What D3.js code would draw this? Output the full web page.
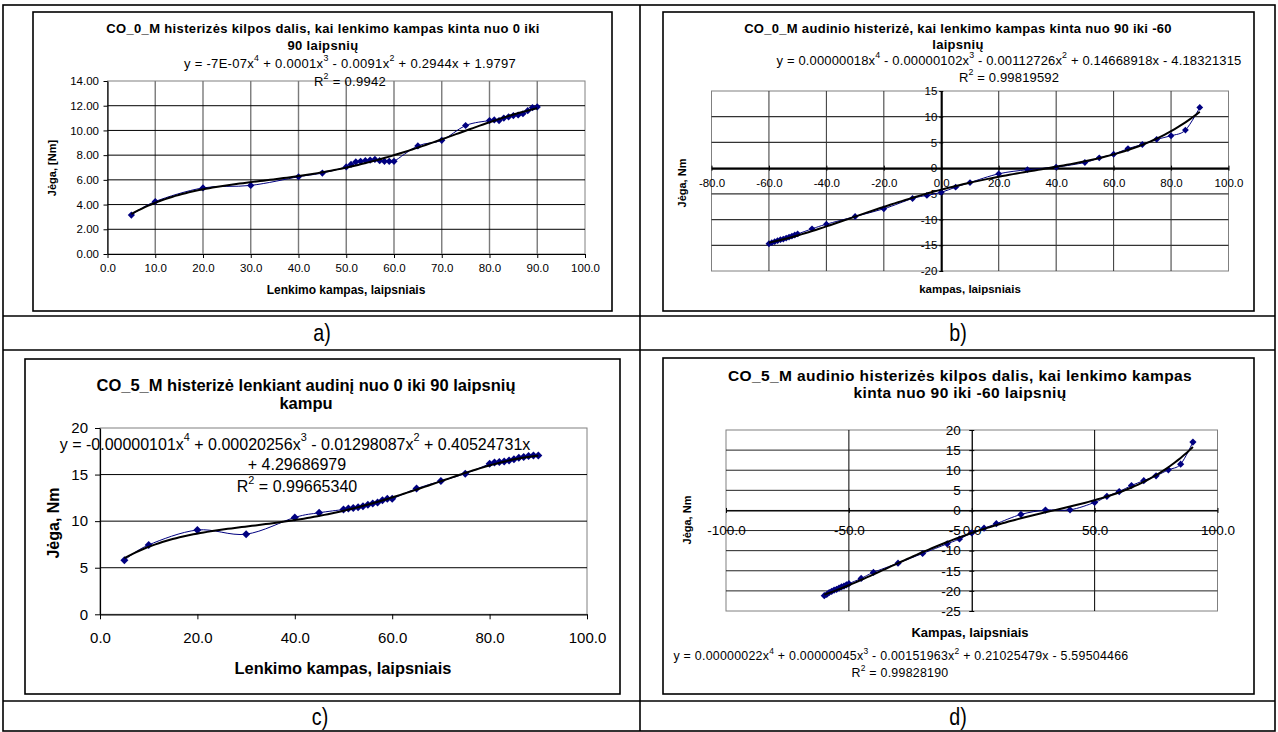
<!DOCTYPE html>
<html lang="lt">
<head>
<meta charset="utf-8">
<title>CO_0_M ir CO_5_M audinio histerizė</title>
<script src="https://cdn.jsdelivr.net/npm/d3@7"></script>
<style>
  html, body { margin: 0; padding: 0; background: #fff; }
  svg { display: block; }
  text { font-family: "Liberation Sans", Arial, sans-serif; fill: #000; }
</style>
</head>
<body>
<svg id="sheet" width="1278" height="732"></svg>
<script>
// ---------- a) CO_0_M, 0 -> 90 laipsnių ----------
const anglesA = [5,10,20,30,40,45,50,51,52,53,54,55,56,57,58,59,60,65,70,75,80,81,82,83,84,85,86,87,88,89,90];
const forceA  = [3.15,4.25,5.35,5.55,6.25,6.55,7.05,7.25,7.45,7.5,7.55,7.6,7.65,7.55,7.5,7.5,7.5,8.75,9.2,10.4,10.8,10.85,10.8,11.0,11.1,11.2,11.25,11.35,11.6,11.85,11.9];
const coefTextA = ["-7E-07","0.0001","-0.0091","0.2944","1.9797"];
const r2A = "0.9942";
const xTicksA = [0,10,20,30,40,50,60,70,80,90,100];
const yTicksA = [0,2,4,6,8,10,12,14];

// ---------- b) CO_0_M, 90 -> -60 laipsnių ----------
const anglesB = [90,85,80,75,70,65,60,55,50,40,30,20,10,5,0,-5,-10,-20,-30,-40,-45,-50,-51,-52,-53,-54,-55,-56,-57,-58,-59,-60];
const forceB  = [11.8,7.4,6.3,5.6,4.6,3.8,2.7,2.0,1.1,0.2,-0.3,-1.1,-2.8,-3.7,-4.7,-5.3,-5.9,-7.9,-9.4,-10.9,-11.8,-12.8,-13.0,-13.2,-13.4,-13.6,-13.8,-13.9,-14.1,-14.3,-14.5,-14.7];
const coefB = [0.00000018,-0.00000102,-0.00112726,0.14668918,-4.18321315];
const r2B = "0.99819592";
const xTicksB = [-80,-60,-40,-20,0,20,40,60,80,100];
const yTicksB = [-20,-15,-10,-5,0,5,10,15];

// ---------- c) CO_5_M, 0 -> 90 laipsnių ----------
const anglesC = [5,10,20,30,40,45,50,51,52,53,54,55,56,57,58,59,60,65,70,75,80,81,82,83,84,85,86,87,88,89,90];
const forceC  = [5.8,7.45,9.05,8.6,10.4,10.9,11.25,11.35,11.4,11.5,11.6,11.75,11.9,12.0,12.25,12.4,12.4,13.5,14.3,15.1,16.15,16.3,16.35,16.4,16.5,16.65,16.8,16.9,17.0,17.05,17.05];
const coefC = [-0.00000101,0.00020256,-0.01298087,0.40524731,4.29686979];
const r2C = "0.99665340";
const xTicksC = [0,20,40,60,80,100];
const yTicksC = [0,5,10,15,20];

// ---------- d) CO_5_M, 90 -> -60 laipsnių ----------
const anglesD = [90,85,80,75,70,65,60,55,50,40,30,20,10,5,0,-5,-10,-20,-30,-40,-45,-50,-51,-52,-53,-54,-55,-56,-57,-58,-59,-60];
const forceD  = [17.0,11.5,10.1,8.6,7.4,6.2,4.7,3.5,2.0,0.15,0.1,-1.0,-3.3,-4.4,-5.6,-7.1,-8.3,-10.7,-13.1,-15.4,-16.9,-18.2,-18.5,-18.8,-19.0,-19.3,-19.6,-19.8,-20.1,-20.4,-20.9,-21.2];
const coefD = [0.00000022,0.00000045,-0.00151963,0.21025479,-5.59504466];
const r2D = "0.99828190";
const xTicksD = [-100,-50,0,50,100];
const yTicksD = [-25,-20,-15,-10,-5,0,5,10,15,20];

const svg = d3.select("#sheet");
const NAVY = "#000080";

// Least-squares polynomial fitted on x/100 for numerical stability.
function polyFit(xs, ys, deg) {
  const n = deg + 1, s = 100;
  const A = Array.from({length: n}, () => new Array(n + 1).fill(0));
  xs.forEach((xv, i) => {
    const t = xv / s;
    for (let r = 0; r < n; r++) {
      for (let c = 0; c < n; c++) A[r][c] += Math.pow(t, r + c);
      A[r][n] += Math.pow(t, r) * ys[i];
    }
  });
  for (let i = 0; i < n; i++) {
    let m = i;
    for (let k = i + 1; k < n; k++) if (Math.abs(A[k][i]) > Math.abs(A[m][i])) m = k;
    [A[i], A[m]] = [A[m], A[i]];
    for (let k = i + 1; k < n; k++) {
      const f = A[k][i] / A[i][i];
      for (let c = i; c <= n; c++) A[k][c] -= f * A[i][c];
    }
  }
  const c = new Array(n).fill(0);
  for (let i = n - 1; i >= 0; i--) {
    let v = A[i][n];
    for (let k = i + 1; k < n; k++) v -= A[i][k] * c[k];
    c[i] = v / A[i][i];
  }
  return x => c.reduce((acc, ck, k) => acc + ck * Math.pow(x / s, k), 0);
}

// Polynomial from coefficients in descending power order.
function polyFrom(coefs) {
  return x => coefs.reduce((acc, c) => acc * x + c, 0);
}

// Equation terms, with ^n marking a superscript.
function eqTerms(coefStrs) {
  const deg = coefStrs.length - 1;
  return coefStrs.map((cs, i) => {
    const p = deg - i;
    const neg = cs.startsWith("-");
    const mag = neg ? cs.slice(1) : cs;
    const xs = p === 0 ? "" : (p === 1 ? "x" : "x^" + p);
    if (i === 0) return "y = " + (neg ? "-" : "") + mag + xs;
    return (neg ? "- " : "+ ") + mag + xs;
  });
}
const fixed8 = arr => arr.map(c => c.toFixed(8));

// Text with ^n superscripts rendered through tspans.
function richText(g, x, y, str, size, spacing) {
  const t = g.append("text")
    .attr("x", x).attr("y", y)
    .attr("text-anchor", "middle")
    .attr("dominant-baseline", "central")
    .attr("font-size", size)
    .attr("letter-spacing", spacing || 0);
  const parts = str.split(/\^(\d)/);
  const lift = size * 0.38;
  let raised = false;
  parts.forEach((p, i) => {
    if (i % 2 === 1) {
      t.append("tspan").attr("dy", -lift).attr("font-size", size * 0.68).text(p);
      raised = true;
    } else if (p.length) {
      const ts = t.append("tspan").text(p);
      if (raised) { ts.attr("dy", lift); raised = false; }
    }
  });
  return t;
}

function diamond(r) { return `M0,${-r}L${r},0L0,${r}L${-r},0Z`; }

function drawPanel(p) {
  const g = svg.append("g");
  const [fx, fy, fw, fh] = p.frame;
  g.append("rect").attr("x", fx).attr("y", fy).attr("width", fw).attr("height", fh)
    .attr("fill", "#fff").attr("stroke", "#000").attr("stroke-width", 1.6);

  const x = d3.scaleLinear().domain(p.xDomain).range(p.xRange);
  const y = d3.scaleLinear().domain(p.yDomain).range(p.yRange);
  const [x0, x1] = p.xRange, [y0, y1] = p.yRange;

  g.append("rect").attr("x", x0).attr("y", y1).attr("width", x1 - x0).attr("height", y0 - y1)
    .attr("fill", "#fff").attr("stroke", "#808080").attr("stroke-width", 1);

  g.append("g").selectAll("line").data(p.vGrid).join("line")
    .attr("x1", d => x(d)).attr("x2", d => x(d)).attr("y1", y1).attr("y2", y0)
    .attr("stroke", p.vGridColor).attr("stroke-width", p.vGridWidth);
  g.append("g").selectAll("line").data(p.hGrid).join("line")
    .attr("x1", x0).attr("x2", x1).attr("y1", d => y(d)).attr("y2", d => y(d))
    .attr("stroke", p.hGridColor).attr("stroke-width", p.hGridWidth);

  const xAxis = d3.axisBottom(x).tickValues(p.xTicks).tickFormat(d => d.toFixed(1))
    .tickSize(p.xTick[0]).tickPadding(p.xTick[1]).tickSizeOuter(0);
  const yAxis = d3.axisLeft(y).tickValues(p.yTicks).tickFormat(p.yFormat)
    .tickSize(p.yTick[0]).tickPadding(p.yTick[1]).tickSizeOuter(0);
  const gx = g.append("g").attr("transform", `translate(0,${y(p.xAxisAt)})`).call(xAxis);
  const gy = g.append("g").attr("transform", `translate(${x(p.yAxisAt)},0)`).call(yAxis);
  [gx, gy].forEach(a => {
    a.attr("font-family", null).attr("font-size", null);
    a.select(".domain").attr("stroke", "#000").attr("stroke-width", p.axisWidth);
    a.selectAll(".tick line").attr("stroke", "#000").attr("stroke-width", 1);
    a.selectAll(".tick text").attr("font-size", p.tickFont).attr("fill", "#000");
  });
  if (p.xAxisAt !== p.yDomain[0]) {
    // Axes through zero: tick marks cross the line
    gx.selectAll(".tick line").attr("y1", -p.xTick[0] / 2).attr("y2", p.xTick[0] / 2);
    gy.selectAll(".tick line").attr("x1", p.yTick[0] / 2).attr("x2", -p.yTick[0] / 2);
  }

  const pts = p.xs.map((v, i) => [v, p.ys[i]]);
  g.append("path").datum(pts)
    .attr("d", d3.line().x(d => x(d[0])).y(d => y(d[1])).curve(d3.curveCardinal))
    .attr("fill", "none").attr("stroke", NAVY).attr("stroke-width", 1);
  g.append("g").selectAll("path").data(pts).join("path")
    .attr("transform", d => `translate(${x(d[0])},${y(d[1])})`)
    .attr("d", diamond(p.marker)).attr("fill", NAVY);

  const lo = d3.min(p.xs), hi = d3.max(p.xs);
  const samples = d3.range(0, 121).map(i => lo + (hi - lo) * i / 120);
  g.append("path").datum(samples)
    .attr("d", d3.line().x(d => x(d)).y(d => y(p.trend(d))))
    .attr("fill", "none").attr("stroke", "#000").attr("stroke-width", 2);

  p.title.forEach((line, i) => {
    g.append("text").attr("x", p.titlePos[0]).attr("y", p.titlePos[1] + i * p.titleGap)
      .attr("text-anchor", "middle").attr("dominant-baseline", "central")
      .attr("font-size", p.titleFont).attr("letter-spacing", p.titleSpacing)
      .attr("font-weight", "bold").text(line);
  });
  p.eqLines.forEach(ln => richText(g, ln[1], ln[2], ln[0], p.eqFont, p.eqSpacing));
  richText(g, p.r2Pos[0], p.r2Pos[1], "R^2 = " + p.r2, p.eqFont, p.eqSpacing);

  g.append("text").attr("x", p.xLabelPos[0]).attr("y", p.xLabelPos[1])
    .attr("text-anchor", "middle").attr("dominant-baseline", "central")
    .attr("font-size", p.xLabelFont).attr("font-weight", "bold").text(p.xLabel);
  g.append("text")
    .attr("transform", `translate(${p.yLabelPos[0]},${p.yLabelPos[1]}) rotate(-90)`)
    .attr("text-anchor", "middle").attr("dominant-baseline", "central")
    .attr("font-size", p.yLabelFont).attr("font-weight", "bold").text(p.yLabel);
}

// ---------- page table ----------
const table = svg.append("g").attr("stroke", "#000").attr("stroke-width", 1.6);
table.append("rect").attr("x", 3).attr("y", 5).attr("width", 1272).attr("height", 726).attr("fill", "none");
table.append("line").attr("x1", 640).attr("x2", 640).attr("y1", 5).attr("y2", 731);
[316, 350, 701].forEach(yy => table.append("line").attr("x1", 3).attr("x2", 1275).attr("y1", yy).attr("y2", yy));
const captions = [["a)", 322, 333], ["b)", 958, 333], ["c)", 320, 717], ["d)", 958, 717]];
captions.forEach(([t, cx, cy]) => {
  svg.append("text").attr("transform", `translate(${cx},${cy}) scale(0.82,1)`)
    .attr("text-anchor", "middle").attr("dominant-baseline", "central")
    .attr("font-family", "'Liberation Serif', 'Times New Roman', serif")
    .attr("font-size", 24).text(t);
});

// ---------- panels ----------
drawPanel({
  frame: [33, 12, 579, 299],
  xDomain: [0, 100], xRange: [107.5, 585], yDomain: [0, 14], yRange: [254, 81],
  xs: anglesA, ys: forceA, trend: polyFit(anglesA, forceA, 4),
  xTicks: xTicksA, yTicks: yTicksA, yFormat: d => d.toFixed(2),
  xTick: [4, 6.3], yTick: [4, 4.5], xAxisAt: 0, yAxisAt: 0, axisWidth: 1.2,
  vGrid: xTicksA.slice(1, -1), vGridColor: "#7a7a7a", vGridWidth: 1.4,
  hGrid: yTicksA.slice(1, -1), hGridColor: "#000", hGridWidth: 1,
  tickFont: 11.5, marker: 3.6,
  title: ["CO_0_M histerizės kilpos dalis, kai lenkimo kampas kinta nuo 0 iki", "90 laipsnių"],
  titlePos: [323, 28.5], titleGap: 16.5, titleFont: 13, titleSpacing: 0.35,
  eqLines: [[eqTerms(coefTextA).join(" "), 350, 63]], r2: r2A, r2Pos: [350, 81],
  eqFont: 13, eqSpacing: 0.3,
  xLabel: "Lenkimo kampas, laipsniais", xLabelPos: [346, 289.5], xLabelFont: 12,
  yLabel: "Jėga, [Nm]", yLabelPos: [52, 168], yLabelFont: 11
});

drawPanel({
  frame: [663, 12, 591, 299],
  xDomain: [-80, 100], xRange: [711.5, 1228.5], yDomain: [-20, 15], yRange: [271, 91],
  xs: anglesB, ys: forceB, trend: polyFrom(coefB),
  xTicks: xTicksB, yTicks: yTicksB, yFormat: d => String(d),
  xTick: [5, 5.7], yTick: [4, 0], xAxisAt: 0, yAxisAt: 0, axisWidth: 2,
  vGrid: xTicksB.slice(1, -1), vGridColor: "#333", vGridWidth: 1,
  hGrid: yTicksB.slice(1, -1), hGridColor: "#333", hGridWidth: 1.3,
  tickFont: 11.5, marker: 3.4,
  title: ["CO_0_M audinio histerizė, kai lenkimo kampas kinta nuo 90 iki -60", "laipsnių"],
  titlePos: [958, 28.5], titleGap: 15.5, titleFont: 13, titleSpacing: 0.3,
  eqLines: [[eqTerms(fixed8(coefB)).join(" "), 1009, 60]], r2: r2B, r2Pos: [1009, 77],
  eqFont: 13, eqSpacing: 0.15,
  xLabel: "kampas, laipsniais", xLabelPos: [970, 289], xLabelFont: 11.5,
  yLabel: "Jėga, Nm", yLabelPos: [682, 183], yLabelFont: 11
});

const termsC = eqTerms(fixed8(coefC));
drawPanel({
  frame: [25, 359, 595, 335],
  xDomain: [0, 100], xRange: [100, 587], yDomain: [0, 20], yRange: [614.3, 428],
  xs: anglesC, ys: forceC, trend: polyFrom(coefC),
  xTicks: xTicksC, yTicks: yTicksC, yFormat: d => String(d),
  xTick: [5, 13.5], yTick: [5, 7], xAxisAt: 0, yAxisAt: 0, axisWidth: 1.2,
  vGrid: [], vGridColor: "#000", vGridWidth: 1,
  hGrid: yTicksC.slice(1, -1), hGridColor: "#000", hGridWidth: 1,
  tickFont: 15, marker: 4,
  title: ["CO_5_M histerizė lenkiant audinį nuo 0 iki 90 laipsnių", "kampu"],
  titlePos: [306, 384.5], titleGap: 18.5, titleFont: 16.5, titleSpacing: 0,
  eqLines: [[termsC.slice(0, 4).join(" "), 295, 443.5], [termsC[4], 297, 463.5]],
  r2: r2C, r2Pos: [297, 486], eqFont: 16, eqSpacing: 0,
  xLabel: "Lenkimo kampas, laipsniais", xLabelPos: [343, 667.5], xLabelFont: 16.4,
  yLabel: "Jėga, Nm", yLabelPos: [53, 523], yLabelFont: 16
});

drawPanel({
  frame: [663, 358, 591, 336],
  xDomain: [-100, 100], xRange: [726, 1217.5], yDomain: [-25, 20], yRange: [611, 430],
  xs: anglesD, ys: forceD, trend: polyFrom(coefD),
  xTicks: xTicksD, yTicks: yTicksD, yFormat: d => String(d),
  xTick: [5, 9.9], yTick: [5, 6], xAxisAt: 0, yAxisAt: 0, axisWidth: 1.3,
  vGrid: [-50, 50], vGridColor: "#000", vGridWidth: 1,
  hGrid: yTicksD.slice(1, -1), hGridColor: "#222", hGridWidth: 1,
  tickFont: 13.5, marker: 3.6,
  title: ["CO_5_M audinio histerizės kilpos dalis, kai lenkimo kampas", "kinta nuo 90 iki -60 laipsnių"],
  titlePos: [960, 375], titleGap: 17.7, titleFont: 15.5, titleSpacing: 0.4,
  eqLines: [[eqTerms(fixed8(coefD)).join(" "), 901, 656]], r2: r2D, r2Pos: [900, 673],
  eqFont: 12.4, eqSpacing: 0.25,
  xLabel: "Kampas, laipsniais", xLabelPos: [970, 632], xLabelFont: 13,
  yLabel: "Jėga, Nm", yLabelPos: [687, 520], yLabelFont: 11
});
</script>
</body>
</html>
